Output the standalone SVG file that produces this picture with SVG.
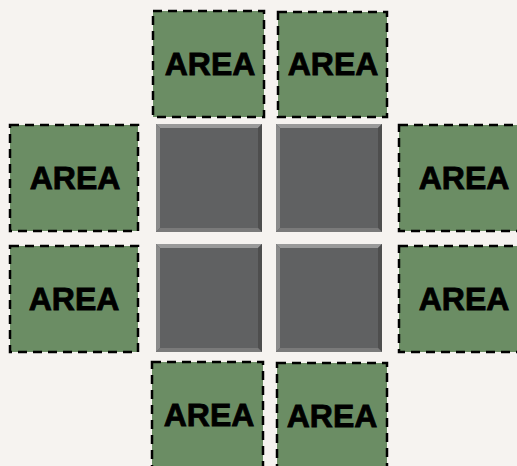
<svg xmlns="http://www.w3.org/2000/svg" width="517" height="466" viewBox="0 0 517 466">
<style>
.area{fill:#6b8d64;stroke:#000;stroke-width:2.5;stroke-dasharray:9 6}
.lbl{font-family:"Liberation Sans",Arial,sans-serif;font-weight:bold;font-size:32px;fill:#000;stroke:#000;stroke-width:0.8;text-anchor:middle;dominant-baseline:central}
.face{fill:#606162}
.bt{fill:#9a9a9a}
.bl{fill:#8a8a8a}
.br{fill:#4e4e4e}
.bb{fill:#7a7a7a}
</style>
<defs>
<g id="tile">
<rect class="face" x="0" y="0" width="106" height="108"/>
<polygon class="bt" points="0,0 106,0 102,4 4,4"/>
<polygon class="bl" points="0,0 4,4 4,104 0,108"/>
<polygon class="br" points="106,0 106,108 102,104 102,4"/>
<polygon class="bb" points="0,108 4,104 102,104 106,108"/>
</g>
</defs>
<rect width="517" height="466" fill="#f6f3f0"/>
<g id="tiles">
<use href="#tile" x="156" y="124"/>
<use href="#tile" x="276" y="124"/>
<use href="#tile" x="156" y="244"/>
<use href="#tile" x="276" y="244"/>
</g>
<g id="top1"><rect class="area" x="153" y="11" width="111" height="106"/><text class="lbl" x="210" y="64">AREA</text></g>
<g id="top2"><rect class="area" x="278" y="12" width="109" height="105"/><text class="lbl" x="333" y="64">AREA</text></g>
<g id="left1"><rect class="area" x="10" y="125" width="128" height="106"/><text class="lbl" x="75" y="178">AREA</text></g>
<g id="left2"><rect class="area" x="10" y="246" width="128" height="106"/><text class="lbl" x="74" y="299">AREA</text></g>
<g id="right1"><rect class="area" x="399" y="125" width="130" height="106"/><text class="lbl" x="464" y="178">AREA</text></g>
<g id="right2"><rect class="area" x="399" y="246" width="130" height="106"/><text class="lbl" x="464" y="299">AREA</text></g>
<g id="bottom1"><rect class="area" x="152" y="362" width="111" height="110"/><text class="lbl" x="209" y="415">AREA</text></g>
<g id="bottom2"><rect class="area" x="277" y="363" width="110" height="110"/><text class="lbl" x="332" y="416">AREA</text></g>
</svg>
